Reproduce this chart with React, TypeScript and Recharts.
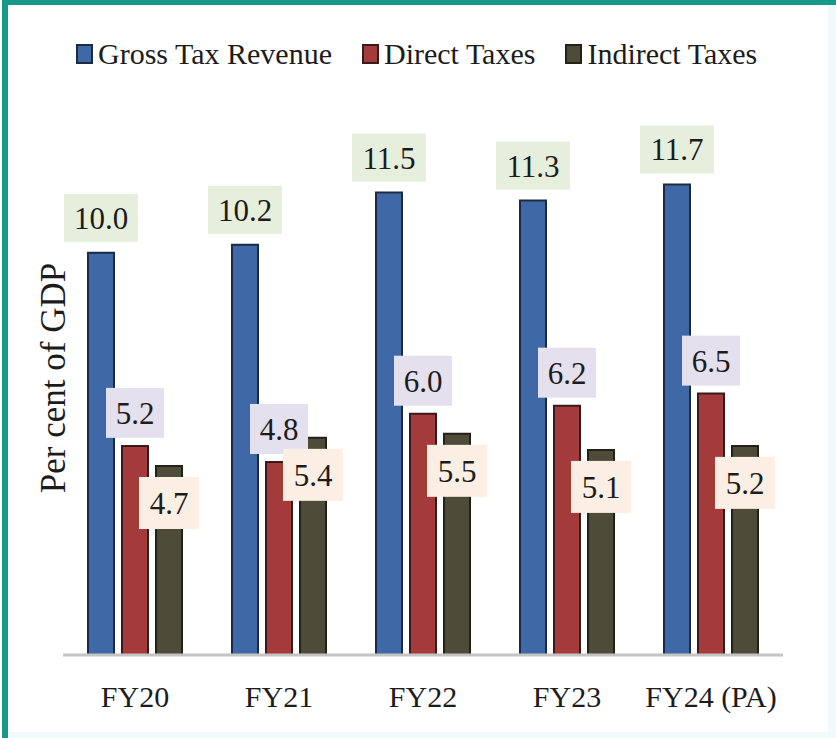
import { Bar, BarChart, LabelList, Legend, XAxis, YAxis } from "recharts"

const categories = ["FY20", "FY21", "FY22", "FY23", "FY24 (PA)"]
const grossTax = [10.0, 10.2, 11.5, 11.3, 11.7]
const directTax = [5.2, 4.8, 6.0, 6.2, 6.5]
const indirectTax = [4.7, 5.4, 5.5, 5.1, 5.2]

const data = categories.map((name, i) => ({
  name,
  gross: grossTax[i],
  direct: directTax[i],
  indirect: indirectTax[i],
}))

const serif = "'Liberation Serif', 'Times New Roman', serif"

const series = [
  { key: "gross", name: "Gross Tax Revenue", fill: "#3f68a6", stroke: "#1d2a42" },
  { key: "direct", name: "Direct Taxes", fill: "#a33b3b", stroke: "#3a1b1b" },
  { key: "indirect", name: "Indirect Taxes", fill: "#4e4b39", stroke: "#23221a" },
]

// label box: centered on the bar, either above its top or hanging below it
const boxLabel =
  (fill: string, w: number, h: number, gap: number, below = false) =>
  (props: any) => {
    const { x, y, width, value } = props
    const cx = Number(x) + Number(width) / 2
    const top = below ? Number(y) + gap : Number(y) - gap - h
    return (
      <g>
        <rect x={cx - w / 2} y={top} width={w} height={h} fill={fill} />
        <text
          x={cx}
          y={top + h / 2 + 11}
          textAnchor="middle"
          style={{ fontFamily: serif }}
          fontSize={31}
          fill="#1c1c1c"
        >
          {Number(value).toFixed(1)}
        </text>
      </g>
    )
  }

const Tick = (props: any) => {
  const { x, y, payload } = props
  return (
    <text x={x} y={y + 52} textAnchor="middle" style={{ fontFamily: serif }} fontSize={30} fill="#1c1c1c">
      {payload.value}
    </text>
  )
}

const LegendContent = () => (
  <div style={{ display: "flex", alignItems: "center", fontFamily: serif, fontSize: 30, color: "#1c1c1c" }}>
    {series.map((s) => (
      <div key={s.key} style={{ display: "flex", alignItems: "center", marginRight: 30 }}>
        <span
          style={{
            display: "inline-block",
            width: 13,
            height: 16,
            background: s.fill,
            border: `2px solid ${s.stroke}`,
            marginRight: 5,
          }}
        />
        <span>{s.name}</span>
      </div>
    ))}
  </div>
)

export default function App() {
  return (
    <div
      style={{
        position: "absolute",
        left: 0,
        top: 0,
        width: 836,
        height: 738,
        background: "#fff",
        overflow: "hidden",
      }}
    >
      <div style={{ position: "absolute", left: 2, top: 0, width: 6, height: 738, background: "#17998a" }} />
      <div style={{ position: "absolute", left: 2, top: 0, width: 834, height: 5, background: "#17998a" }} />
      <div style={{ position: "absolute", right: 0, top: 5, width: 8, height: 733, background: "#f0fafa" }} />
      <div style={{ position: "absolute", left: 8, bottom: 0, width: 828, height: 6, background: "#f0fafa" }} />
      <div
        style={{
          position: "absolute",
          left: 54,
          top: 378,
          transform: "translate(-50%, -50%) rotate(-90deg)",
          fontFamily: serif,
          fontSize: 35,
          color: "#1c1c1c",
          whiteSpace: "nowrap",
        }}
      >
        Per cent of GDP
      </div>
      <BarChart
        width={836}
        height={738}
        data={data}
        margin={{ top: 92, right: 53, left: 63, bottom: 23 }}
        barSize={26}
        barGap={8}
      >
        <XAxis
          dataKey="name"
          height={60}
          tickLine={false}
          tickSize={0}
          tickMargin={0}
          axisLine={{ stroke: "#c4c4c4", strokeWidth: 3 }}
          tick={<Tick />}
          interval={0}
        />
        <YAxis hide domain={[0, 14]} />
        <Legend
          layout="horizontal"
          align="center"
          verticalAlign="middle"
          wrapperStyle={{ top: 37, left: 76, width: "auto" }}
          content={<LegendContent />}
        />
        <Bar dataKey="gross" name="Gross Tax Revenue" fill="#3f68a6" stroke="#1d2a42" strokeWidth={2} isAnimationActive={false}>
          <LabelList dataKey="gross" content={boxLabel("#e6eedc", 74, 48, 11)} />
        </Bar>
        <Bar dataKey="direct" name="Direct Taxes" fill="#a33b3b" stroke="#3a1b1b" strokeWidth={2} isAnimationActive={false}>
          <LabelList dataKey="direct" content={boxLabel("#e4e0ee", 58, 50, 8)} />
        </Bar>
        <Bar dataKey="indirect" name="Indirect Taxes" fill="#4e4b39" stroke="#23221a" strokeWidth={2} isAnimationActive={false}>
          <LabelList dataKey="indirect" content={boxLabel("#fbeee3", 60, 52, 11, true)} />
        </Bar>
      </BarChart>
    </div>
  )
}
